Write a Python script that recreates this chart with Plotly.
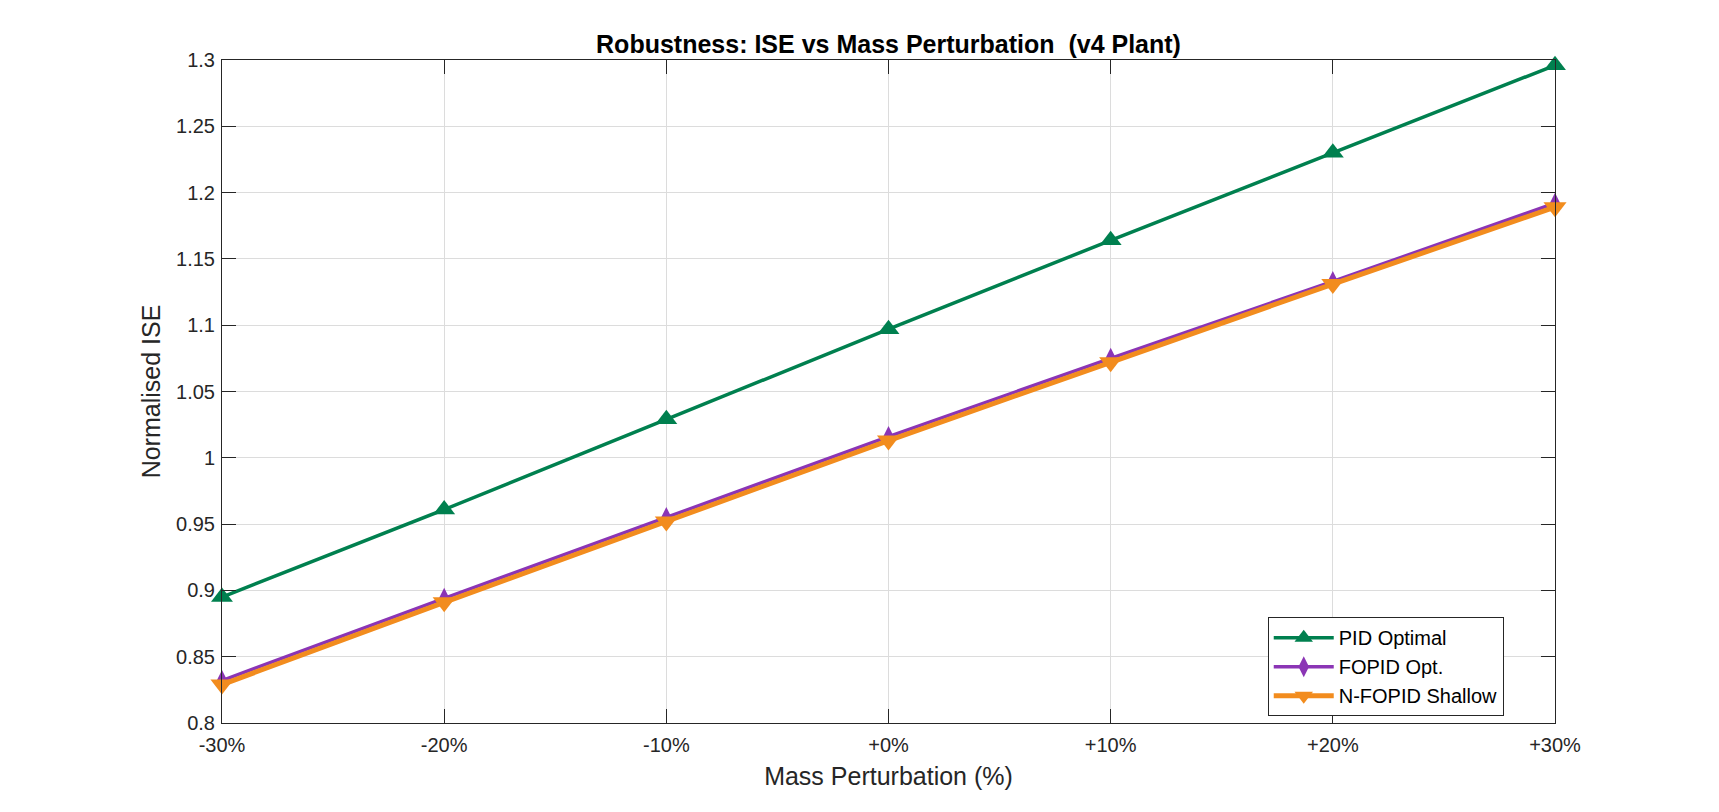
import plotly.graph_objects as go

perturb = [-30, -20, -10, 0, 10, 20, 30]
tick_labels = ["-30%", "-20%", "-10%", "+0%", "+10%", "+20%", "+30%"]
pid_optimal = [0.895, 0.961, 1.029, 1.097, 1.164, 1.230, 1.296]
fopid_opt = [0.832, 0.894, 0.955, 1.016, 1.075, 1.133, 1.192]
nfopid_shallow = [0.829, 0.891, 0.952, 1.013, 1.072, 1.131, 1.189]
y_ticks = [0.8, 0.85, 0.9, 0.95, 1.0, 1.05, 1.1, 1.15, 1.2, 1.25, 1.3]
y_tick_labels = ["0.8", "0.85", "0.9", "0.95", "1", "1.05", "1.1", "1.15", "1.2", "1.25", "1.3"]

FONT = "Liberation Sans, Arial, sans-serif"

fig = go.Figure()
fig.add_trace(go.Scatter(
    x=perturb, y=pid_optimal, name="PID Optimal", mode="lines+markers",
    line=dict(color="#00804F", width=3.5),
    marker=dict(symbol="triangle-up", size=19, color="#00804F"),
    cliponaxis=False))
fig.add_trace(go.Scatter(
    x=perturb, y=fopid_opt, name="FOPID Opt.", mode="lines+markers",
    line=dict(color="#8B35B5", width=3.5),
    marker=dict(symbol="diamond-tall", size=15, color="#8B35B5"),
    cliponaxis=False))
fig.add_trace(go.Scatter(
    x=perturb, y=nfopid_shallow, name="N-FOPID Shallow", mode="lines+markers",
    line=dict(color="#F28C1E", width=5),
    marker=dict(symbol="triangle-down", size=20, color="#F28C1E"),
    cliponaxis=False))

axis_common = dict(
    showline=True, linecolor="#262626", linewidth=1, mirror="ticks",
    ticks="inside", ticklen=14, tickcolor="#262626", tickwidth=1,
    showgrid=True, gridcolor="#DCDCDC", gridwidth=1, zeroline=False,
    tickfont=dict(family=FONT, size=20, color="#262626"),
)

fig.update_layout(
    width=1719, height=812,
    margin=dict(l=222, r=164, t=60, b=89),
    paper_bgcolor="white", plot_bgcolor="white",
    title=dict(text="<b>Robustness: ISE vs Mass Perturbation  (v4 Plant)</b>",
               x=(222 + 1555) / 2 / 1719, xanchor="center", y=1 - 44 / 812, yanchor="middle",
               font=dict(family=FONT, size=25, color="black")),
    xaxis=dict(range=[-30, 30], tickvals=perturb, ticktext=tick_labels,
               ticklabelstandoff=4,
               title=dict(text="Mass Perturbation (%)", font=dict(family=FONT, size=25, color="#262626"), standoff=12),
               **axis_common),
    yaxis=dict(range=[0.8, 1.3], tickvals=y_ticks, ticktext=y_tick_labels,
               ticklabelstandoff=2,
               title=dict(text="Normalised ISE", font=dict(family=FONT, size=25, color="#262626"), standoff=8),
               **axis_common),
    legend=dict(x=0.7845, y=0.085, xanchor="left", yanchor="middle",
                bgcolor="white", bordercolor="#262626", borderwidth=1,
                font=dict(family=FONT, size=20, color="black"),
                itemwidth=60, tracegroupgap=0),
    showlegend=True,
)

fig.write_html("out.html")
